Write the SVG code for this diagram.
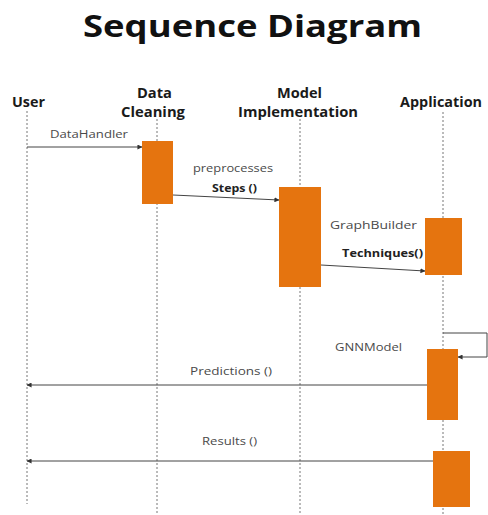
<svg xmlns="http://www.w3.org/2000/svg" width="488" height="515" viewBox="0 0 488 515">
<defs>
<marker id="ah" viewBox="0 0 6 6" refX="5.5" refY="3" markerWidth="5" markerHeight="5" orient="auto" markerUnits="userSpaceOnUse">
<path d="M0,0 L6,3 L0,6 Z" fill="#333"/>
</marker>
</defs>
<style>
.title{font-family:"Open Sans","Liberation Sans",sans-serif;font-weight:bold;font-size:31px;fill:#111}
.hdr{font-family:"Open Sans","Liberation Sans",sans-serif;font-weight:bold;font-size:13.5px;fill:#1a1a1a}
.lbl{font-family:"Open Sans","Liberation Sans",sans-serif;font-size:11.5px;fill:#4a4a4a}
.lblb{font-family:"Open Sans","Liberation Sans",sans-serif;font-size:11px;font-weight:bold;fill:#222}
.life{stroke:#777;stroke-width:1;stroke-dasharray:2 2;fill:none}
.act{fill:#E5740F}
.msg{stroke:#444;stroke-width:1;fill:none;marker-end:url(#ah)}
</style>
<rect width="488" height="515" fill="#fff"/>
<text class="title" x="83" y="37" textLength="339" lengthAdjust="spacingAndGlyphs">Sequence Diagram</text>

<g id="user">
<text class="hdr" x="12" y="107" textLength="33" lengthAdjust="spacingAndGlyphs">User</text>
<line class="life" x1="27" y1="111" x2="27" y2="504"/>
</g>
<g id="data-cleaning">
<text class="hdr" x="137" y="98" textLength="35" lengthAdjust="spacingAndGlyphs">Data</text>
<text class="hdr" x="121" y="117" textLength="64" lengthAdjust="spacingAndGlyphs">Cleaning</text>
<line class="life" x1="157" y1="119" x2="157" y2="515"/>
<rect class="act" x="142" y="141" width="31" height="63"/>
</g>
<g id="model-implementation">
<text class="hdr" x="277" y="98" textLength="45" lengthAdjust="spacingAndGlyphs">Model</text>
<text class="hdr" x="238" y="117" textLength="120" lengthAdjust="spacingAndGlyphs">Implementation</text>
<line class="life" x1="300" y1="119" x2="300" y2="515"/>
<rect class="act" x="279" y="187" width="42" height="100"/>
</g>
<g id="application">
<text class="hdr" x="400" y="107" textLength="82" lengthAdjust="spacingAndGlyphs">Application</text>
<line class="life" x1="443" y1="112" x2="443" y2="515"/>
<rect class="act" x="425" y="218" width="37" height="57"/>
<rect class="act" x="427" y="349" width="31" height="71"/>
<rect class="act" x="433" y="451" width="37" height="56"/>
</g>

<g id="connectors">
<line class="msg" x1="27" y1="147" x2="142" y2="147"/>
<line class="msg" x1="173" y1="195" x2="279" y2="200"/>
<line class="msg" x1="321" y1="265" x2="425" y2="271"/>
<polyline class="msg" points="443,333 487,333 487,357 458,357"/>
<line class="msg" x1="427" y1="385" x2="27" y2="385"/>
<line class="msg" x1="433" y1="461" x2="27" y2="461"/>
</g>

<g id="labels">
<text class="lbl" x="50" y="138" textLength="78" lengthAdjust="spacingAndGlyphs">DataHandler</text>
<text class="lbl" x="193" y="172" textLength="80" lengthAdjust="spacingAndGlyphs">preprocesses</text>
<text class="lblb" x="212" y="192" textLength="45" lengthAdjust="spacingAndGlyphs">Steps ()</text>
<text class="lbl" x="330" y="229" font-size="12.5" textLength="87" lengthAdjust="spacingAndGlyphs">GraphBuilder</text>
<text class="lblb" x="342" y="257" textLength="81" lengthAdjust="spacingAndGlyphs">Techniques()</text>
<text class="lbl" x="335" y="351" textLength="67" lengthAdjust="spacingAndGlyphs">GNNModel</text>
<text class="lbl" x="190" y="375" textLength="82" lengthAdjust="spacingAndGlyphs">Predictions ()</text>
<text class="lbl" x="202" y="445" textLength="55" lengthAdjust="spacingAndGlyphs">Results ()</text>
</g>
</svg>
